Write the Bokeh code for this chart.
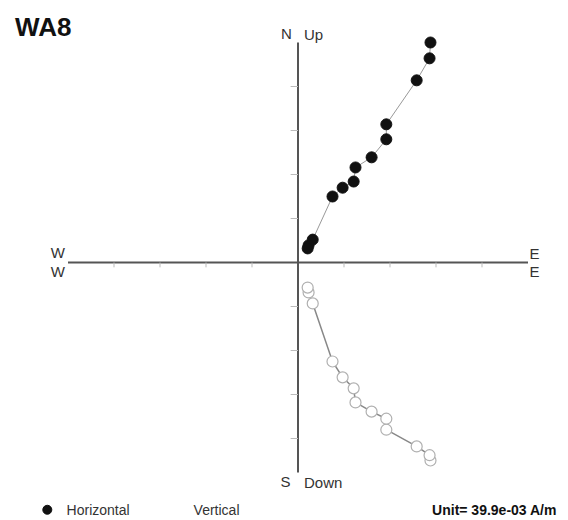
from bokeh.plotting import figure
from bokeh.models import Range1d, Label, ColumnDataSource
from bokeh.embed import file_html
from bokeh.resources import INLINE

# ---- data (in plot units; 1 tick = 1 unit) ----
east = [2.88, 2.86, 2.58, 1.92, 1.92, 1.60, 1.25, 1.21, 0.97, 0.75, 0.32, 0.23, 0.21]
north = [5.00, 4.64, 4.14, 3.14, 2.80, 2.39, 2.16, 1.84, 1.70, 1.50, 0.52, 0.39, 0.32]
up = [-4.50, -4.38, -4.18, -3.80, -3.55, -3.39, -3.18, -2.86, -2.61, -2.25, -0.93, -0.68, -0.57]

tick_vals = [-4, -3, -2, -1, 1, 2, 3, 4]
axis_x_extent = [-5.0, 5.0]
axis_y_extent = [-4.77, 5.0]

title = "WA8"
unit_text = "Unit= 39.9e-03 A/m"

FONT = "Liberation Sans"

W, H = 560, 520
# screen px (from top-left of picture) -> data: X = (px-297.5)/46, Y = (262-py)/44
p = figure(width=W, height=H,
           x_range=Range1d((0 - 297.5) / 46, (W - 297.5) / 46),
           y_range=Range1d((262 - H) / 44, (262 - 0) / 44),
           output_backend="svg", toolbar_location=None, min_border=0)
p.axis.visible = False
p.grid.visible = False
p.outline_line_color = None
p.background_fill_color = "white"
p.border_fill_color = "white"

# axes
p.line(axis_x_extent, [0, 0], line_color="#555555", line_width=2)
p.line([0, 0], axis_y_extent, line_color="#555555", line_width=2)
# ticks
p.segment(x0=tick_vals, y0=[0] * len(tick_vals), x1=tick_vals, y1=[-0.11] * len(tick_vals),
          line_color="#bbbbbb", line_width=1)
p.segment(x0=[0] * len(tick_vals), y0=tick_vals, x1=[-0.16] * len(tick_vals), y1=tick_vals,
          line_color="#bbbbbb", line_width=1)

src = ColumnDataSource(dict(e=east, n=north, u=up))

# vertical projection (open circles)
p.line("e", "u", source=src, line_color="#888888", line_width=1.5)
p.scatter("e", "u", source=src, size=11, fill_color="white", line_color="#b0b0b0", line_width=1.2)

# horizontal projection (filled)
p.line("e", "n", source=src, line_color="#999999", line_width=1)
p.scatter("e", "n", source=src, size=11, fill_color="#111111", line_color="#111111")

def lab(x, y, t, align="center", size="15px", bold=False, color="#333333"):
    p.add_layout(Label(x=x, y=y, text=t, text_align=align, text_baseline="middle",
                       text_font=FONT, text_font_size=size,
                       text_font_style="bold" if bold else "normal", text_color=color))

# axis labels
lab(-0.25, 5.2, "N", align="center")
lab(0.13, 5.18, "Up", align="left")
lab(-5.22, 0.23, "W")
lab(-5.22, -0.21, "W")
lab(5.14, 0.21, "E")
lab(5.14, -0.21, "E")
lab(-0.27, -4.98, "S")
lab(0.13, -5.0, "Down", align="left")

# title
lab(-6.15, 5.36, title, align="left", size="26px", bold=True, color="#111111")

# legend
p.scatter([-5.45], [-5.62], size=9, fill_color="#111111", line_color="#111111")
lab(-5.03, -5.62, "Horizontal", align="left", size="14px")
lab(-2.27, -5.62, "Vertical", align="left", size="14px")
lab(5.63, -5.62, unit_text, align="right", size="14px", bold=True, color="#111111")

open("out.html", "w").write(file_html(p, INLINE))
